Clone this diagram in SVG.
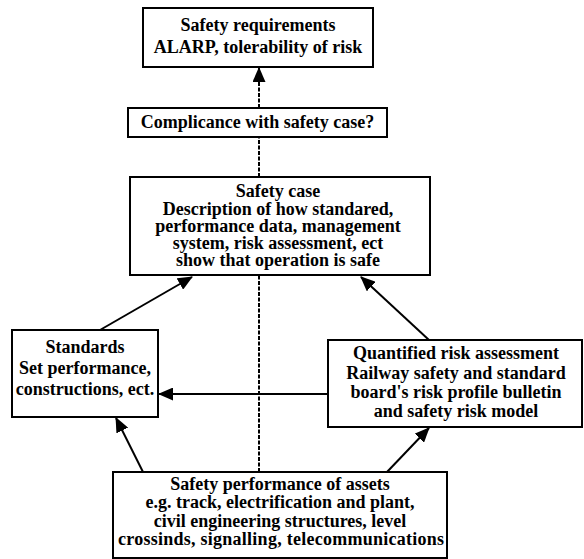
<svg xmlns="http://www.w3.org/2000/svg" width="584" height="559" viewBox="0 0 584 559">
<style>
.box{fill:#fff;stroke:#000;stroke-width:2}
.t{font-family:"Liberation Serif","Times New Roman",serif;font-weight:bold;font-size:18px;fill:#000;text-anchor:middle}
.ln{stroke:#000;stroke-width:2;fill:none}
.dash{stroke:#000;stroke-width:2;fill:none;stroke-dasharray:4 1.5}
</style>
<defs>
<marker id="ah" markerUnits="userSpaceOnUse" markerWidth="15" markerHeight="13" viewBox="0 0 15 13" refX="14" refY="6.5" orient="auto">
<path d="M0,0 L15,6.5 L0,13 Z" fill="#000"/>
</marker>
</defs>
<rect width="584" height="559" fill="#fff"/>
<g id="connectors">
<line class="dash" x1="259" y1="108" x2="259" y2="68" marker-end="url(#ah)"/>
<line class="dash" x1="259" y1="177" x2="259" y2="137"/>
<line class="dash" x1="259" y1="472" x2="259" y2="275"/>
<line class="ln" x1="100" y1="330" x2="192" y2="277" marker-end="url(#ah)"/>
<line class="ln" x1="429" y1="340" x2="361" y2="277" marker-end="url(#ah)"/>
<line class="ln" x1="328" y1="394" x2="159" y2="394" marker-end="url(#ah)"/>
<line class="ln" x1="143" y1="472" x2="116" y2="418" marker-end="url(#ah)"/>
<line class="ln" x1="387" y1="472" x2="429" y2="428" marker-end="url(#ah)"/>
</g>
<g id="safety-requirements">
<rect class="box" x="143" y="8" width="230" height="59"/>
<text class="t" x="258" y="31">Safety requirements</text>
<text class="t" x="258" y="53">ALARP, tolerability of risk</text>
</g>
<g id="compliance">
<rect class="box" x="128" y="108" width="259" height="29"/>
<text class="t" x="257.5" y="128">Complicance with safety case?</text>
</g>
<g id="safety-case">
<rect class="box" x="130" y="177" width="300" height="98"/>
<text class="t" x="278" y="197">Safety case</text>
<text class="t" x="278" y="214.5">Description of how standared,</text>
<text class="t" x="278" y="231.5">performance data, management</text>
<text class="t" x="278" y="249">system, risk assessment, ect</text>
<text class="t" x="278" y="266">show that operation is safe</text>
</g>
<g id="standards">
<rect class="box" x="12" y="330" width="146" height="87"/>
<text class="t" x="85" y="353">Standards</text>
<text class="t" x="85" y="374">Set performance,</text>
<text class="t" x="85" y="395">constructions, ect.</text>
</g>
<g id="qra">
<rect class="box" x="328" y="340" width="254" height="87"/>
<text class="t" x="456" y="359">Quantified risk assessment</text>
<text class="t" x="456" y="379">Railway safety and standard</text>
<text class="t" x="456" y="398">board's risk profile bulletin</text>
<text class="t" x="456" y="417">and safety risk model</text>
</g>
<g id="safety-performance">
<rect class="box" x="113" y="472" width="334" height="86"/>
<text class="t" x="280" y="490">Safety performance of assets</text>
<text class="t" x="280" y="508">e.g. track, electrification and plant,</text>
<text class="t" x="280" y="527">civil engineering structures, level</text>
<text class="t" x="281" y="545" textLength="326" lengthAdjust="spacing">crossinds, signalling, telecommunications</text>
</g>
</svg>
